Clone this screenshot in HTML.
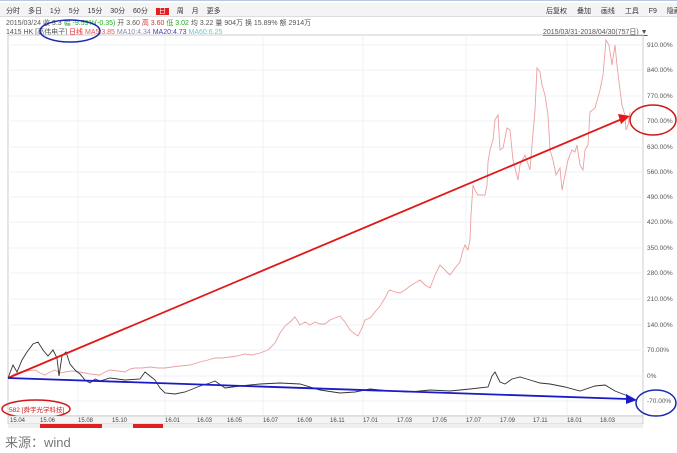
<!DOCTYPE html><html><head><meta charset="utf-8"><style>
body{margin:0;width:677px;height:453px;background:#fff;overflow:hidden;font-family:"Liberation Sans","Noto Sans CJK SC",sans-serif}
.t{position:absolute;font-size:7px;white-space:nowrap}
</style></head><body>
<div style="position:absolute;left:0;top:0;width:677px;height:428px;background:#fff;border-top:1px solid #b8c8e0"></div>
<div style="position:absolute;left:0;top:3px;width:677px;height:13px;background:#f4f4f4;border-bottom:1px solid #ddd"></div>
<div class="t" style="left:6px;top:6px;color:#333;word-spacing:6px">分时 多日 1分 5分 15分 30分 60分 <span style="background:#e02020;color:#fff;padding:0 3px">日</span> 周 月 更多</div>
<div class="t" style="left:546px;top:6px;color:#333;word-spacing:8px">后复权 叠加 画线 工具 F9 隐藏▸</div>
<div class="t" style="left:6px;top:18px;color:#555">2015/03/24 收 3.3 <span style="color:#2a2">幅 -9.59%(-0.35)</span> 开 3.60 <span style="color:#c33">高 3.60</span> <span style="color:#2a2">低 3.02</span> 均 3.22 量 904万 换 15.89% 额 2914万</div>
<div class="t" style="left:6px;top:27px;color:#555">1415 HK [高伟电子] <span style="color:#e22">日线</span> <span style="color:#e55">MA5:3.85</span> <span style="color:#88a">MA10:4.34</span> <span style="color:#44a">MA20:4.73</span> <span style="color:#6cc">MA60:6.25</span></div>
<div class="t" style="left:543px;top:27px;color:#555;text-decoration:underline">2015/03/31-2018/04/30(757日) ▼</div>
<svg width="677" height="453" style="position:absolute;left:0;top:0">
<rect x="8" y="35" width="635" height="381" fill="none" stroke="#ccc"/>
<g stroke="#eef0f4" stroke-width="1">
<line x1="8" x2="643" y1="45" y2="45"/><line x1="8" x2="643" y1="70" y2="70"/><line x1="8" x2="643" y1="96" y2="96"/><line x1="8" x2="643" y1="121" y2="121"/><line x1="8" x2="643" y1="147" y2="147"/><line x1="8" x2="643" y1="172" y2="172"/><line x1="8" x2="643" y1="197" y2="197"/><line x1="8" x2="643" y1="222" y2="222"/><line x1="8" x2="643" y1="248" y2="248"/><line x1="8" x2="643" y1="273" y2="273"/><line x1="8" x2="643" y1="299" y2="299"/><line x1="8" x2="643" y1="325" y2="325"/><line x1="8" x2="643" y1="350" y2="350"/><line x1="8" x2="643" y1="376" y2="376"/><line x1="8" x2="643" y1="401" y2="401"/>
<line x1="78" x2="78" y1="35" y2="416"/><line x1="165" x2="165" y1="35" y2="416"/><line x1="263" x2="263" y1="35" y2="416"/><line x1="363" x2="363" y1="35" y2="416"/><line x1="466" x2="466" y1="35" y2="416"/><line x1="567" x2="567" y1="35" y2="416"/></g>
<g font-size="6.5" fill="#555" font-family="Liberation Sans">
<text x="647" y="47">910.00%</text><text x="647" y="72">840.00%</text><text x="647" y="98">770.00%</text><text x="647" y="123">700.00%</text><text x="647" y="149">630.00%</text><text x="647" y="174">560.00%</text><text x="647" y="199">490.00%</text><text x="647" y="224">420.00%</text><text x="647" y="250">350.00%</text><text x="647" y="275">280.00%</text><text x="647" y="301">210.00%</text><text x="647" y="327">140.00%</text><text x="647" y="352">70.00%</text><text x="647" y="378">0%</text><text x="647" y="403">-70.00%</text></g>
<polyline fill="none" stroke="#eaa0a0" stroke-width="0.9" points="8,378 14,374 20,372 27,371 35,370 40,373 45,375 50,372 55,370 60,373 65,372 72,371 80,372 90,374 100,375 105,372 110,370 118,371 125,372 130,369 135,368 142,368 150,367 158,368 165,368 172,367 180,366 190,365 200,362 208,360 215,358 222,358 230,357 237,356 245,354 252,355 260,353 268,350 275,343 278,337 280,333 285,326 290,322 295,317 300,325 305,322 310,325 315,322 320,324 325,324 330,320 335,318 340,316 345,322 350,330 355,334 358,336 362,328 365,320 370,318 375,312 380,306 385,298 388,292 390,290 395,292 400,293 405,290 410,286 415,283 420,280 425,285 430,288 435,275 440,265 445,270 450,275 455,268 460,262 463,250 465,245 468,250 470,240 471,215 472,200 473,185 475,190 478,195 482,195 485,195 487,185 488,162 490,150 493,140 495,120 498,115 500,150 503,148 507,128 510,130 513,160 518,180 520,165 525,155 530,170 532,145 535,110 537,68 540,72 542,85 545,95 548,115 550,150 553,160 556,175 560,168 562,190 565,175 568,160 572,150 575,152 577,145 580,165 583,170 585,150 588,145 590,112 595,108 600,90 603,75 606,40 609,45 612,65 615,45 617,65 620,90 622,105 625,115 626,130 628,125 630,112"/>
<polyline fill="none" stroke="#333" stroke-width="0.9" points="8,378 13,365 17,372 22,360 27,352 33,344 38,342 43,350 48,356 53,350 57,358 59,376 62,356 66,352 70,364 75,370 80,374 85,380 90,383 95,379 100,381 110,378 125,380 140,379 145,372 150,376 155,380 160,388 165,393 175,394 185,392 200,386 210,383 215,381 225,388 240,386 260,384 280,383 300,384 320,390 340,393 355,392 370,389 390,391 410,392 430,390 450,391 470,389 488,387 492,376 495,372 500,382 505,384 512,379 520,377 530,380 540,383 550,384 565,387 580,391 595,386 605,385 615,391 628,396"/>
<line x1="8" y1="378" x2="622" y2="119" stroke="#e01818" stroke-width="1.8"/><polygon points="630,116 618,114 621,124" fill="#e01818"/>
<line x1="8" y1="378" x2="628" y2="399" stroke="#1a1ac8" stroke-width="1.8"/><polygon points="637,400 626,394 626,404" fill="#1a1ac8"/>
<ellipse cx="70" cy="31" rx="30" ry="11" fill="none" stroke="#1a2ab0" stroke-width="1.5"/>
<ellipse cx="653" cy="120" rx="23" ry="15" fill="none" stroke="#d01818" stroke-width="1.5"/>
<ellipse cx="656" cy="403" rx="20" ry="13" fill="none" stroke="#1a2ab0" stroke-width="1.5"/>
<ellipse cx="36" cy="409" rx="34" ry="9" fill="none" stroke="#d01818" stroke-width="1.5"/>
<text x="9" y="412" font-size="6.5" fill="#d02020">582 [舜宇光学科技]</text>
<rect x="8" y="416" width="635" height="8" fill="#f4f4f4" stroke="#aaa" stroke-width="0.5"/>
<g font-size="6" fill="#444" font-family="Liberation Sans"><text x="10" y="422">15.04</text><text x="40" y="422">15.06</text><text x="78" y="422">15.08</text><text x="112" y="422">15.10</text><text x="165" y="422">16.01</text><text x="197" y="422">16.03</text><text x="227" y="422">16.05</text><text x="263" y="422">16.07</text><text x="297" y="422">16.09</text><text x="330" y="422">16.11</text><text x="363" y="422">17.01</text><text x="397" y="422">17.03</text><text x="432" y="422">17.05</text><text x="466" y="422">17.07</text><text x="500" y="422">17.09</text><text x="533" y="422">17.11</text><text x="567" y="422">18.01</text><text x="600" y="422">18.03</text></g>
<rect x="8" y="424" width="635" height="4" fill="#eee"/><rect x="40" y="424" width="62" height="4" fill="#e02020"/><rect x="133" y="424" width="30" height="4" fill="#e02020"/>
</svg>
<div style="position:absolute;left:5px;top:432px;font-size:13px;color:#777">来源：wind</div>
</body></html>
